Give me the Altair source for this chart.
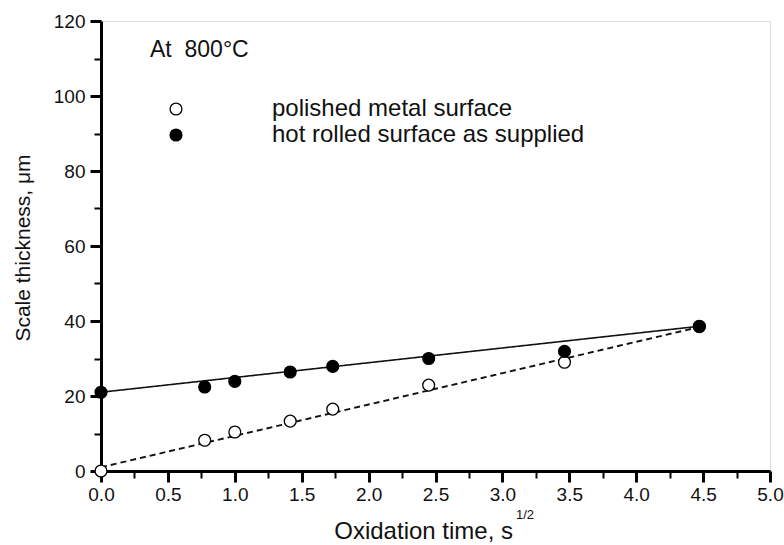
import altair as alt
import pandas as pd

# Square root of oxidation time (s^1/2) at which the scale was measured
time_sqrt = [0.0, 0.775, 1.0, 1.414, 1.732, 2.449, 3.464, 4.472]
# Scale thickness (um) for each surface condition
polished = [0.0, 8.2, 10.4, 13.3, 16.5, 22.9, 29.0, 38.5]
hot_rolled = [21.0, 22.4, 23.9, 26.4, 27.9, 30.0, 31.9, 38.6]
series_names = ["polished metal surface", "hot rolled surface as supplied"]

# End points of the straight-line fits
fit_x = [0.0, 4.472]
fit_polished = [1.0, 38.4]
fit_hot = [21.0, 38.6]
fit_names = ["polished fit", "hot rolled fit"]

x_major_ticks = [0.0, 0.5, 1.0, 1.5, 2.0, 2.5, 3.0, 3.5, 4.0, 4.5, 5.0]
x_minor_ticks = [0.25, 0.75, 1.25, 1.75, 2.25, 2.75, 3.25, 3.75, 4.25, 4.75]
y_major_ticks = [0, 20, 40, 60, 80, 100, 120]
y_minor_ticks = [10, 30, 50, 70, 90, 110]

FONT = "Liberation Sans"
INK = "#111"

points = pd.DataFrame({
    "t": time_sqrt + time_sqrt,
    "thickness": polished + hot_rolled,
    "surface": [series_names[0]] * len(polished) + [series_names[1]] * len(hot_rolled),
})
fits = pd.DataFrame({
    "t": fit_x + fit_x,
    "thickness": fit_polished + fit_hot,
    "fit": [fit_names[0]] * 2 + [fit_names[1]] * 2,
})

x_scale = alt.Scale(domain=[0, 5], nice=False, zero=False)
y_scale = alt.Scale(domain=[0, 120], nice=False)

common = dict(grid=False, title=None, tickColor="black", domainColor="black",
              domainWidth=3, labelOverlap=False, labelFlush=False)

x_axis_major = alt.Axis(
    values=x_major_ticks, orient="bottom", format=".1f", labelFont=FONT,
    labelFontSize=19, labelColor=INK, labelPadding=3, tickSize=11, tickWidth=3,
    **common,
)
x_axis_minor = alt.Axis(
    values=x_minor_ticks, orient="bottom", labels=False, domain=False,
    tickSize=7, tickWidth=2, grid=False, title=None, tickColor="black",
)
y_axis_major = alt.Axis(
    values=y_major_ticks, orient="left", format="d", labelFont=FONT,
    labelFontSize=19, labelColor=INK, labelPadding=5, tickSize=11, tickWidth=3,
    **common,
)
y_axis_minor = alt.Axis(
    values=y_minor_ticks, orient="left", labels=False, domain=False,
    tickSize=7, tickWidth=2, grid=False, title=None, tickColor="black",
)

fit_lines = alt.Chart(fits).mark_line(color=INK).encode(
    x=alt.X("t:Q", scale=x_scale, axis=x_axis_major),
    y=alt.Y("thickness:Q", scale=y_scale, axis=y_axis_major),
    detail="fit:N",
    strokeDash=alt.StrokeDash(
        "fit:N",
        scale=alt.Scale(domain=fit_names, range=[[6, 4], [1, 0]]),
        legend=None,
    ),
    strokeWidth=alt.StrokeWidth(
        "fit:N",
        scale=alt.Scale(domain=fit_names, range=[1.9, 1.6]),
        legend=None,
    ),
)

markers = alt.Chart(points).mark_point(
    shape="circle", filled=True, size=140, stroke="black", strokeWidth=1.3, opacity=1
).encode(
    x=alt.X("t:Q", scale=x_scale, axis=x_axis_minor),
    y=alt.Y("thickness:Q", scale=y_scale, axis=y_axis_minor),
    fill=alt.Fill(
        "surface:N",
        scale=alt.Scale(domain=series_names, range=["white", "black"]),
        legend=alt.Legend(
            title=None, orient="none", legendX=63, legendY=76,
            symbolType="circle", symbolSize=140, symbolStrokeColor="black",
            symbolStrokeWidth=1.3, labelFont=FONT, labelFontSize=24,
            labelColor=INK, labelOffset=84, rowPadding=2, padding=0,
            labelLimit=450,
        ),
    ),
)

annot = pd.DataFrame({"k": [0]})
temp_label = alt.Chart(annot).mark_text(
    text="At\u00a0 800°C", font=FONT, fontSize=23, align="left", baseline="middle", color=INK
).encode(x=alt.value(49), y=alt.value(29))

y_title = alt.Chart(annot).mark_text(
    text="Scale thickness, μm", font=FONT, fontSize=21, angle=270,
    align="center", baseline="middle", color=INK
).encode(x=alt.value(-77), y=alt.value(227))

x_title = alt.Chart(annot).mark_text(
    text="Oxidation time, s", font=FONT, fontSize=24, align="right",
    baseline="middle", color=INK
).encode(x=alt.value(412), y=alt.value(511))

x_title_sup = alt.Chart(annot).mark_text(
    text="1/2", font=FONT, fontSize=13, align="left", baseline="middle", color=INK
).encode(x=alt.value(415), y=alt.value(494))

chart = alt.layer(
    fit_lines, markers, temp_label, y_title, x_title, x_title_sup
).resolve_axis(x="independent", y="independent").properties(
    width=669, height=450,
    autosize=alt.AutoSizeParams(type="none"),
    padding={"left": 101, "top": 21, "right": 14, "bottom": 74},
).configure_view(stroke=None).configure(background="white")

chart.save("out.html", embed_options={"renderer": "svg", "actions": False})
